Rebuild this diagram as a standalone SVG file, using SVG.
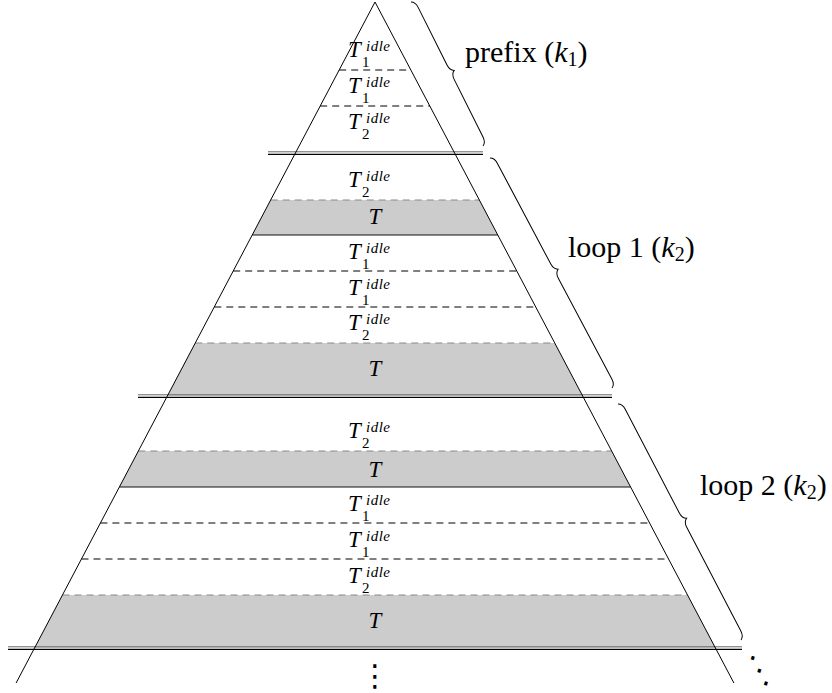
<svg xmlns="http://www.w3.org/2000/svg" width="832" height="693" viewBox="0 0 832 693">
<style>
.tri{fill:none;stroke:#000;stroke-width:1}
.band{fill:#cccccc;stroke:none}
.dash{stroke:#000;stroke-width:1;stroke-dasharray:7 5;fill:none}
.gdash{stroke:#888;stroke-width:1;stroke-dasharray:7 5;fill:none}
.solid{stroke:#111;stroke-width:1;fill:none}
.dbl1{stroke:#666;stroke-width:1;fill:none}
.dbl2{stroke:#000;stroke-width:1.2;fill:none}
.brace{fill:none;stroke:#000;stroke-width:1}
.lbl{font-family:"Liberation Serif","DejaVu Serif",serif}
.m{font-style:italic;font-size:23px}
.sup{font-style:italic;font-size:15px;letter-spacing:0.5px}
.sub{font-size:15px}
.big{font-family:"Liberation Serif",serif;font-size:30px}
.dots{font-family:"DejaVu Sans",sans-serif;font-size:30px}
</style>
<defs>
<g id="tl1" class="lbl"><text class="m" x="348" y="0">T</text><text class="sup" x="366" y="-6">idle</text><text class="sub" x="362" y="10">1</text></g>
<g id="tl2" class="lbl"><text class="m" x="348" y="0">T</text><text class="sup" x="366" y="-6">idle</text><text class="sub" x="362" y="10">2</text></g>
</defs>

<g id="bands">
<polygon class="band" points="270.7,200 479.3,200 497.8,235 252.2,235"/>
<polygon class="band" points="195.3,343 554.7,343 582.6,396 167.4,396"/>
<polygon class="band" points="138.4,451 611.6,451 630.6,487 119.4,487"/>
<polygon class="band" points="62.5,595 687.5,595 715.4,648 34.6,648"/>
</g>

<g id="connectors">
<line class="dash" x1="339.2" y1="70" x2="410.8" y2="70"/>
<line class="dash" x1="320.2" y1="106" x2="429.8" y2="106"/>
<line class="dbl1" x1="268" y1="151.8" x2="483" y2="151.8"/>
<line class="dbl2" x1="268" y1="154.3" x2="483" y2="154.3"/>

<line class="gdash" x1="270.7" y1="200" x2="479.3" y2="200"/>
<line class="solid" x1="252.2" y1="235" x2="497.8" y2="235"/>
<line class="dash" x1="233.2" y1="271" x2="516.8" y2="271"/>
<line class="dash" x1="214.3" y1="307" x2="535.7" y2="307"/>
<line class="gdash" x1="195.3" y1="343" x2="554.7" y2="343"/>
<line class="dbl1" x1="138" y1="394.8" x2="612" y2="394.8"/>
<line class="dbl2" x1="138" y1="397.3" x2="612" y2="397.3"/>

<line class="gdash" x1="138.4" y1="451" x2="611.6" y2="451"/>
<line class="solid" x1="119.4" y1="487" x2="630.6" y2="487"/>
<line class="dash" x1="100.4" y1="523" x2="649.6" y2="523"/>
<line class="dash" x1="81.5" y1="559" x2="668.5" y2="559"/>
<line class="gdash" x1="62.5" y1="595" x2="687.5" y2="595"/>
<line class="dbl1" x1="8" y1="646.8" x2="742" y2="646.8"/>
<line class="dbl2" x1="8" y1="649.3" x2="742" y2="649.3"/>

<polyline class="tri" points="16.1,683 375,2 733.9,683"/>

<path class="brace" transform="translate(411,2) rotate(63.43)" d="M0,0 C1.2,-2.4 4,-4 8,-4 L72.5,-4 C76.5,-4 79.3,-5.6 80.5,-8 C81.7,-5.6 84.5,-4 88.5,-4 L153,-4 C157,-4 159.8,-2.4 161,0"/>
<path class="brace" transform="translate(490,158) rotate(62.05)" d="M0,0 C1.2,-2.4 4,-4 8,-4 L122.2,-4 C126.2,-4 129,-5.6 130.2,-8 C131.4,-5.6 134.2,-4 138.2,-4 L252.4,-4 C256.4,-4 259.2,-2.4 260.4,0"/>
<path class="brace" transform="translate(618,404) rotate(62.47)" d="M0,0 C1.2,-2.4 4,-4 8,-4 L125,-4 C129,-4 131.8,-5.6 133,-8 C134.2,-5.6 137,-4 141,-4 L258.1,-4 C262.1,-4 264.9,-2.4 266.1,0"/>
</g>

<g id="prefix">
<use href="#tl1" y="57"/>
<use href="#tl1" y="93"/>
<use href="#tl2" y="129"/>
<text class="big" x="465" y="62">prefix (<tspan font-style="italic">k</tspan><tspan font-size="20" dy="4">1</tspan><tspan dy="-4">)</tspan></text>
</g>

<g id="loop1">
<use href="#tl2" y="187"/>
<text class="lbl m" x="375" y="224" text-anchor="middle">T</text>
<use href="#tl1" y="259"/>
<use href="#tl1" y="295"/>
<use href="#tl2" y="330"/>
<text class="lbl m" x="375" y="376" text-anchor="middle">T</text>
<text class="big" x="568" y="257">loop 1 (<tspan font-style="italic">k</tspan><tspan font-size="20" dy="4">2</tspan><tspan dy="-4">)</tspan></text>
</g>

<g id="loop2">
<use href="#tl2" y="438"/>
<text class="lbl m" x="375" y="477" text-anchor="middle">T</text>
<use href="#tl1" y="511"/>
<use href="#tl1" y="547"/>
<use href="#tl2" y="583"/>
<text class="lbl m" x="375" y="628" text-anchor="middle">T</text>
<text class="big" x="700" y="495">loop 2 (<tspan font-style="italic">k</tspan><tspan font-size="20" dy="4">2</tspan><tspan dy="-4">)</tspan></text>
</g>

<g id="ellipses">
<text class="dots" x="375" y="686" text-anchor="middle">⋮</text>
<text class="dots" transform="translate(759,672) rotate(17)" x="0" y="8" font-size="22" text-anchor="middle">⋱</text>
</g>
</svg>
